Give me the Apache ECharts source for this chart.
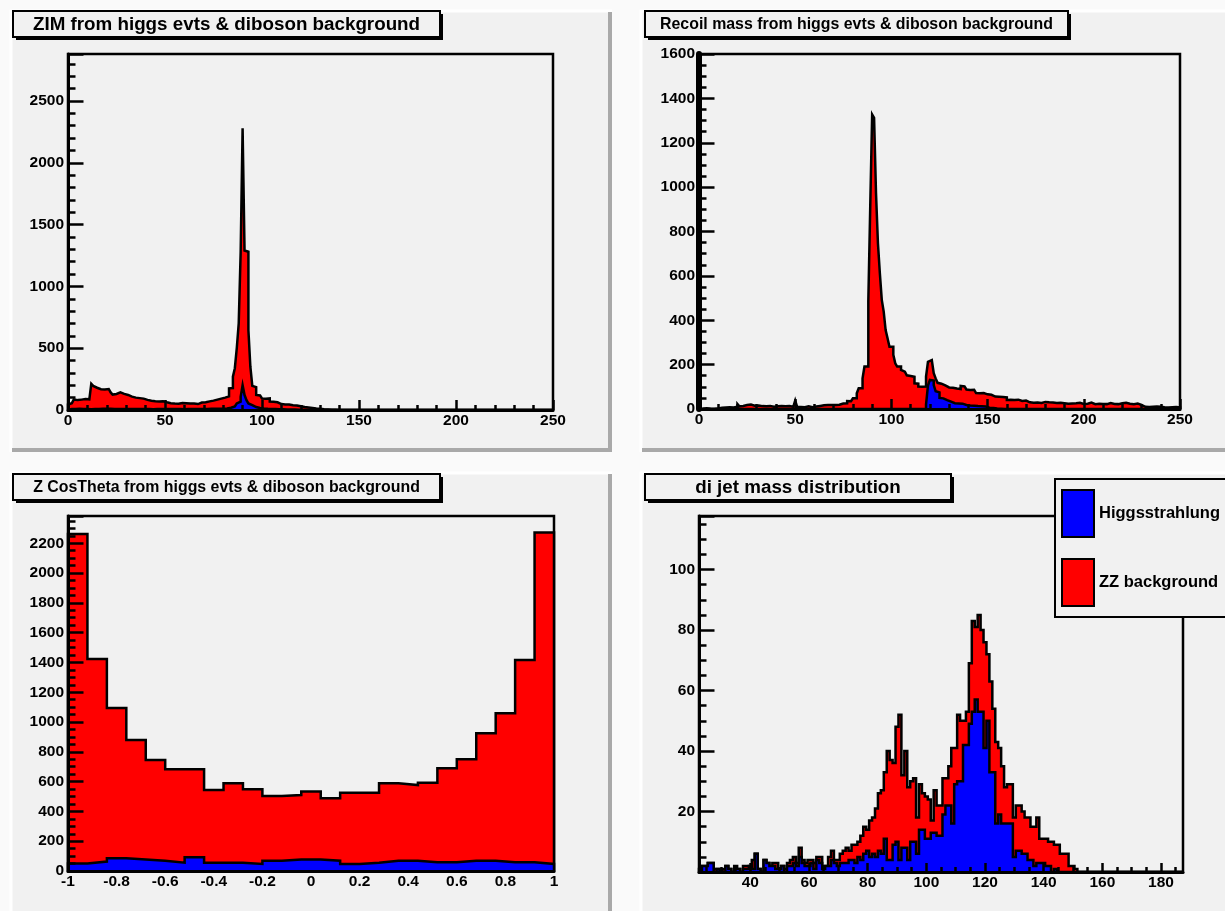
<!DOCTYPE html>
<html><head><meta charset="utf-8">
<script src="https://cdn.jsdelivr.net/npm/echarts@6/dist/echarts.min.js"></script>
<style>html,body{margin:0;padding:0;background:#fafafa;}#c{width:1225px;height:911px;}</style>
</head><body><div id="c"></div>
<script>
// ---------------- DATA ----------------
// Panel 1: Z invariant mass, 1 GeV bins from 0 to 250
const zimLow = 0, zimWidth = 1;
const zimTotal = [
45,55,62,85,80,90,84,80,88,82,
86,80,212,195,180,176,168,160,166,158,
170,162,142,125,130,138,142,135,130,128,
122,112,108,105,100,98,96,90,92,85,
82,80,75,80,70,72,68,75,70,65,
62,57,55,58,52,56,50,54,57,52,
55,50,53,56,52,54,48,55,60,58,
62,66,70,72,76,80,84,88,92,96,
100,107,110,175,178,269,338,500,700,1277,
2280,1290,1280,645,350,195,185,122,118,115,
93,92,90,94,68,66,64,62,66,48,
47,45,48,44,40,38,42,36,38,30,
28,24,26,20,22,16,14,12,15,10,
8,6,7,5,4,3,2,3,2,1,
1,0,0,1,0,0,0,0,1,0,
0,0,0,0,0,0,0,0,0,0,
0,0,0,0,0,0,0,0,0,0,
0,0,0,0,0,0,0,0,0,0,
0,0,0,0,0,0,0,0,0,0,
0,0,0,0,0,0,0,0,0,0,
0,0,0,0,0,0,0,0,0,0,
0,0,0,0,0,0,0,0,0,0,
0,0,0,0,0,0,0,0,0,0,
0,0,0,0,0,0,0,0,0,0,
0,0,0,0,0,0,0,0,0,0];
const zimHiggs = [
6,8,7,9,8,10,7,9,8,8,
9,7,10,9,11,8,9,10,8,10,
9,11,8,9,10,8,10,9,10,8,
9,8,10,9,8,9,7,9,10,8,
9,8,9,7,9,8,10,8,9,8,
8,9,7,9,8,8,9,8,9,7,
9,8,8,9,8,9,7,8,9,9,
8,9,9,10,9,10,9,11,10,11,
12,13,15,18,22,28,36,53,67,107,
200,121,80,53,40,30,24,20,16,14,
12,11,10,9,9,8,8,7,7,6,
6,6,5,5,5,4,4,4,3,3,
3,3,2,2,2,2,2,1,1,1,
1,1,1,0,1,0,0,0,0,0,
0,0,0,0,0,0,0,0,0,0,
0,0,0,0,0,0,0,0,0,0,
0,0,0,0,0,0,0,0,0,0,
0,0,0,0,0,0,0,0,0,0,
0,0,0,0,0,0,0,0,0,0,
0,0,0,0,0,0,0,0,0,0,
0,0,0,0,0,0,0,0,0,0,
0,0,0,0,0,0,0,0,0,0,
0,0,0,0,0,0,0,0,0,0,
0,0,0,0,0,0,0,0,0,0,
0,0,0,0,0,0,0,0,0,0];

// Panel 2: recoil mass, 1 GeV bins from 0 to 250
const recoilLow = 0, recoilWidth = 1;
const recoilTotal = [
2,1,0,3,2,1,2,0,1,2,
5,6,4,7,5,8,6,7,9,10,
22,12,14,15,18,16,20,17,15,14,
16,18,13,15,12,17,14,12,10,13,
12,11,14,10,12,9,13,11,10,12,
38,10,9,11,8,10,12,9,8,10,
11,9,14,18,17,19,18,17,18,16,
18,20,19,26,25,27,26,36,35,37,
48,48,71,93,93,138,191,191,484,913,
1327,1312,973,748,612,492,439,356,319,281,
281,244,206,191,191,176,168,168,152,149,
148,145,116,114,101,100,102,101,146,213,
221,218,161,138,118,114,108,106,100,97,
98,96,93,92,94,90,104,102,100,88,
86,85,87,84,72,71,70,72,69,66,
67,64,66,56,57,55,56,54,57,52,
41,42,40,41,39,42,40,36,34,38,
32,30,34,28,31,29,33,27,30,32,
28,30,26,29,31,27,25,28,30,26,
28,24,27,25,29,26,24,28,25,23,
27,24,26,29,25,22,28,24,26,23,
25,22,24,27,21,23,25,22,24,26,
23,28,21,24,30,22,20,25,23,18,
12,10,11,9,8,10,9,11,8,10,
9,8,10,7,9,8,10,9,8,7];
const recoilHiggs = [
0,0,0,0,0,0,0,0,0,0,
0,0,0,0,0,0,0,0,0,0,
0,0,0,0,0,0,0,0,0,0,
0,0,0,0,0,0,0,0,0,0,
0,0,0,0,0,0,0,0,0,0,
0,0,0,0,0,0,0,0,0,0,
0,0,0,0,0,0,0,0,0,0,
0,0,0,0,0,0,0,0,0,0,
0,0,0,0,0,0,0,0,0,0,
0,0,0,0,0,0,0,0,0,0,
0,0,0,0,0,0,0,0,0,0,
0,0,0,0,0,0,0,0,20,105,
131,128,108,80,75,50,48,46,40,33,
33,28,26,27,25,26,24,19,18,18,
16,14,15,14,13,14,12,13,11,9,
6,5,4,3,2,2,1,1,0,0,
0,0,0,0,0,0,0,0,0,0,
0,0,0,0,0,0,0,0,0,0,
0,0,0,0,0,0,0,0,0,0,
0,0,0,0,0,0,0,0,0,0,
0,0,0,0,0,0,0,0,0,0,
0,0,0,0,0,0,0,0,0,0,
0,0,0,0,0,0,0,0,0,0,
0,0,0,0,0,0,0,0,0,0,
0,0,0,0,0,0,0,0,0,0];

// Panel 3: Z cos(theta), 25 bins from -1 to 1
const cosLow = -1, cosWidth = 0.08;
const cosTotal = [2263,1423,1094,880,745,683,683,544,589,548,504,510,533,488,526,526,589,577,593,689,750,924,1059,1417,2272];
const cosHiggs = [51,63,85,78,69,56,92,56,56,47,69,78,78,69,47,56,69,69,58,58,69,69,58,58,47];

// Panel 4: di-jet mass, 1 GeV bins from 22.5 to 187.5
const dijetLow = 22.5, dijetWidth = 1;
const dijetTotal = [
1,2,2,3,3,1,1,0,1,2,
1,0,2,1,0,2,2,2,4,6,
1,0,4,3,2,3,3,1,2,1,
3,4,5,3,8,4,3,4,4,3,
5,5,2,2,5,7,4,4,6,7,
8,7,9,9,10,12,15,14,17,18,
21,26,27,33,40,37,36,48,52,32,
40,28,30,31,18,29,26,25,24,17,
27,22,22,31,31,35,41,41,52,50,
50,53,69,83,81,85,80,76,72,63,
54,43,41,35,28,29,29,18,22,22,
20,18,18,15,15,18,11,11,11,10,
10,9,9,6,6,6,2,2,1,0,
0,0,0,0,0,0,0,0,0,0,
0,0,0,0,0,0,0,0,0,0,
0,0,0,0,0,0,0,0,0,0,
0,0,0,0,0];
const dijetHiggs = [
0,2,2,3,3,0,1,0,0,2,
1,0,1,1,0,1,1,2,1,6,
1,0,4,3,2,2,1,1,2,0,
2,2,3,2,5,3,2,2,3,1,
4,3,1,2,2,4,3,2,3,3,
3,4,4,3,5,4,6,7,5,6,
5,7,6,11,4,4,9,10,4,8,
8,4,10,10,6,14,14,11,11,13,
13,12,12,19,22,22,16,29,30,30,
42,42,49,53,57,53,53,41,50,33,
33,16,19,16,16,16,16,5,7,7,
6,6,4,4,2,3,3,3,2,2,
0,1,0,0,0,0,0,0,0,0,
0,0,0,0,0,0,0,0,0,0,
0,0,0,0,0,0,0,0,0,0,
0,0,0,0,0,0,0,0,0,0,
0,0,0,0,0];
const dijetMajorTicks = [40,60,80,100,120,140,160,180];
const dijetMinorTicks = [25,30,35,45,50,55,65,70,75,85,90,95,105,110,115,125,130,135,145,150,155,165,170,175,185];

const titles = [
  'ZIM from higgs evts & diboson background',
  'Recoil mass from higgs evts & diboson background',
  'Z CosTheta from higgs evts & diboson background',
  'di jet mass distribution'
];
const seriesNames = ['Higgsstrahlung', 'ZZ background'];

// ---------------- STYLE / LAYOUT ----------------
const FONT = '"Liberation Sans", Arial, Helvetica, sans-serif';
const RED = '#ff0000', BLUE = '#0000ff', PAD = '#f1f1f1';

function histPoints(lo, w, vals) {
  const pts = [[lo, 0]];
  vals.forEach((v, i) => pts.push([lo + i * w, v]));
  const hi = lo + vals.length * w;
  pts.push([hi, vals[vals.length - 1]]);
  pts.push([hi, 0]);
  return pts;
}
function hist(name, idx, pts, color, z) {
  return {
    type: 'line', name: name, xAxisIndex: idx, yAxisIndex: idx, data: pts,
    step: 'end', symbol: 'none', showSymbol: false, silent: true, animation: false, z: z,
    lineStyle: { color: '#000', width: 2.5, join: 'miter' },
    areaStyle: { color: color, opacity: 1 },
    itemStyle: { color: color },
    emphasis: { disabled: true }
  };
}
const labelBase = { color: '#000', fontFamily: FONT, fontWeight: 'bold', fontSize: 15.5 };
function xAx(grid, min, max, interval, minorSplit, extra) {
  const a = {
    type: 'value', gridIndex: grid, min: min, max: max, position: 'bottom', z: 5,
    axisLine: { show: true, onZero: false, lineStyle: { color: '#000', width: 3 } },
    axisTick: { show: true, inside: true, length: 10, lineStyle: { color: '#000', width: 2.5 } },
    minorTick: { show: !!minorSplit, splitNumber: minorSplit || 5, length: 5, lineStyle: { color: '#000', width: 2.5 } },
    splitLine: { show: false }, minorSplitLine: { show: false },
    axisLabel: Object.assign({ margin: 3 }, labelBase)
  };
  if (interval) a.interval = interval;
  return Object.assign(a, extra || {});
}
function yAx(grid, min, max, interval, minorSplit, fmt) {
  return {
    type: 'value', gridIndex: grid, min: min, max: max, interval: interval, z: 5,
    axisLine: { show: true, onZero: false, lineStyle: { color: '#000', width: 3 } },
    axisTick: { show: true, inside: true, length: 15.5, lineStyle: { color: '#000', width: 2.5 } },
    minorTick: { show: true, splitNumber: minorSplit, length: 7.5, lineStyle: { color: '#000', width: 2.5 } },
    splitLine: { show: false }, minorSplitLine: { show: false },
    axisLabel: Object.assign({ margin: 4, formatter: fmt }, labelBase)
  };
}
const gridBase = { show: true, borderColor: '#000', borderWidth: 2.5, backgroundColor: 'transparent', containLabel: false };

const pads = [[10, 10, 602, 442], [640, 10, 600, 442], [10, 472, 602, 450], [640, 472, 600, 450]];
const titleBoxes = [[13, 11, 427, 26, 18.8], [645, 11, 423, 26, 15.9], [13, 474, 427, 26, 15.9], [645, 474, 306, 26, 18.8]];
const legendBox = [1055, 479, 200, 134];

const graphics = [];
pads.forEach(p => {
  const [x, y, w, h] = p;
  graphics.push({ type: 'rect', z: -10, silent: true, shape: { x: x, y: y, width: w, height: h }, style: { fill: PAD } });
  graphics.push({ type: 'polyline', z: -9, silent: true, shape: { points: [[x + 1, y + h], [x + 1, y + 1], [x + w, y + 1]] }, style: { stroke: '#ffffff', lineWidth: 3, fill: null } });
  graphics.push({ type: 'polyline', z: -9, silent: true, shape: { points: [[x + 2, y + h - 2], [x + w - 2, y + h - 2], [x + w - 2, y + 2]] }, style: { stroke: '#a9a9a9', lineWidth: 4, fill: null } });
});
titleBoxes.forEach((b, i) => {
  const [x, y, w, h, fs] = b;
  graphics.push({ type: 'rect', z: 19, silent: true, shape: { x: x + 3, y: y + 3, width: w, height: h }, style: { fill: '#000' } });
  graphics.push({ type: 'rect', z: 20, silent: true, shape: { x: x, y: y, width: w, height: h },
    style: { fill: PAD, stroke: '#000', lineWidth: 2 } });
  graphics.push({ type: 'text', z: 21, silent: true, x: x + w / 2, y: y + h / 2 + 1,
    style: { text: titles[i], fill: '#000', fontFamily: FONT, fontWeight: 'bold', fontSize: fs, align: 'center', verticalAlign: 'middle', textAlign: 'center', textVerticalAlign: 'middle' } });
});
graphics.push({ type: 'rect', z: 29, silent: true,
  shape: { x: legendBox[0] + 3, y: legendBox[1] + 3, width: legendBox[2], height: legendBox[3] }, style: { fill: '#000' } });

const option = {
  backgroundColor: '#fafafa',
  animation: false,
  grid: [
    Object.assign({ left: 68, top: 54, width: 485, height: 356 }, gridBase),
    Object.assign({ left: 699, top: 54, width: 481, height: 355 }, gridBase),
    Object.assign({ left: 68, top: 516, width: 486, height: 355 }, gridBase),
    Object.assign({ left: 699, top: 516, width: 484, height: 356 }, gridBase)
  ],
  xAxis: [
    xAx(0, 0, 250, 50, 5),
    xAx(1, 0, 250, 50, 5),
    xAx(2, -1, 1, 0.2, 0, { axisTick: { show: false } }),
    xAx(3, dijetLow, dijetLow + dijetTotal.length * dijetWidth, null, 0, {
      axisTick: { show: true, inside: true, length: 9, customValues: dijetMajorTicks, lineStyle: { color: '#000', width: 2.5 } },
      axisLabel: Object.assign({ margin: 3, customValues: dijetMajorTicks }, labelBase)
    }),
    xAx(3, dijetLow, dijetLow + dijetTotal.length * dijetWidth, null, 0, {
      axisLine: { show: false },
      axisTick: { show: true, inside: true, length: 5, customValues: dijetMinorTicks, lineStyle: { color: '#000', width: 2.5 } },
      axisLabel: { show: false }
    })
  ],
  yAxis: [
    yAx(0, 0, 2880, 500, 5, v => (v % 500 === 0 ? String(v) : '')),
    yAx(1, 0, 1600, 200, 4, v => String(v)),
    yAx(2, 0, 2383, 200, 4, v => (v % 200 === 0 ? String(v) : '')),
    yAx(3, 0, 117.7, 20, 4, v => (v > 0 && v % 20 === 0 ? String(v) : '')),
    { type: 'value', gridIndex: 1, position: 'right', min: 0, max: 1, z: 5,
      axisLine: { show: true, lineStyle: { color: '#000', width: 6 } }, axisTick: { show: false },
      axisLabel: { show: false }, splitLine: { show: false } }
  ],
  legend: {
    data: [
      { name: seriesNames[0], icon: 'rect', itemStyle: { color: BLUE, borderColor: '#000', borderWidth: 2 } },
      { name: seriesNames[1], icon: 'rect', itemStyle: { color: RED, borderColor: '#000', borderWidth: 2 } }
    ],
    orient: 'vertical', left: legendBox[0], top: legendBox[1], itemWidth: 32, itemHeight: 47, itemGap: 20,
    padding: [10, 40, 10, 6], backgroundColor: PAD, borderColor: '#000', borderWidth: 2,
    textStyle: { color: '#000', fontFamily: FONT, fontWeight: 'bold', fontSize: 16.5 },
    selectedMode: false, z: 30
  },
  graphic: { elements: graphics },
  series: [
    hist(seriesNames[1], 0, histPoints(zimLow, zimWidth, zimTotal), RED, 2),
    hist(seriesNames[0], 0, histPoints(zimLow, zimWidth, zimHiggs), BLUE, 3),
    hist(seriesNames[1], 1, histPoints(recoilLow, recoilWidth, recoilTotal), RED, 2),
    hist(seriesNames[0], 1, histPoints(recoilLow, recoilWidth, recoilHiggs), BLUE, 3),
    hist(seriesNames[1], 2, histPoints(cosLow, cosWidth, cosTotal), RED, 2),
    hist(seriesNames[0], 2, histPoints(cosLow, cosWidth, cosHiggs), BLUE, 3),
    hist(seriesNames[1], 3, histPoints(dijetLow, dijetWidth, dijetTotal), RED, 2),
    hist(seriesNames[0], 3, histPoints(dijetLow, dijetWidth, dijetHiggs), BLUE, 3)
  ]
};
const chart = echarts.init(document.getElementById('c'), null, { renderer: 'canvas' });
chart.setOption(option);
</script></body></html>
